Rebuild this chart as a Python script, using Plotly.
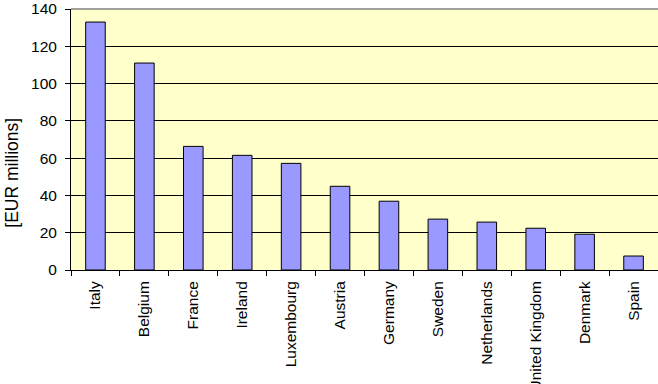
import plotly.graph_objects as go

countries = ["Italy", "Belgium", "France", "Ireland", "Luxembourg", "Austria",
             "Germany", "Sweden", "Netherlands", "United Kingdom", "Denmark", "Spain"]
values = [133, 111, 66.3, 61.5, 57.2, 44.9, 36.9, 27.3, 25.7, 22.4, 19.2, 7.5]
y_ticks = [0, 20, 40, 60, 80, 100, 120, 140]
y_title = "[EUR millions]"

FONT = "Liberation Sans, Arial, sans-serif"

fig = go.Figure()
fig.add_trace(go.Bar(
    x=countries, y=values,
    marker=dict(color="#9999FF", line=dict(color="black", width=1)),
    width=0.4,
))

fig.update_layout(
    width=658, height=384,
    margin=dict(l=71, r=0, t=9, b=114, autoexpand=False),
    paper_bgcolor="white",
    plot_bgcolor="#FFFFCC",
    showlegend=False,
    font=dict(family=FONT, size=15.5, color="black"),
    xaxis=dict(
        tickangle=-90, tickson="boundaries", ticks="outside", ticklen=5,
        tickcolor="black", showline=True, linecolor="black", linewidth=1,
        showgrid=False, automargin=False, tickfont=dict(size=15.5),
        ticklabelstandoff=4,
    ),
    yaxis=dict(
        range=[0, 140], tickvals=y_ticks, ticks="outside", ticklen=5,
        tickcolor="black", showline=True, linecolor="black", linewidth=1,
        showgrid=True, gridcolor="black", gridwidth=1, zeroline=False,
        automargin=False, tickfont=dict(size=15.5), ticklabelstandoff=5,
    ),
    shapes=[dict(type="line", xref="paper", yref="paper", x0=0, x1=1, y0=1, y1=1,
                 line=dict(color="#808080", width=1.5), layer="above")],
    annotations=[dict(text=y_title, textangle=-90, xref="paper", yref="paper",
                      x=-0.1, y=0.374, xanchor="center", yanchor="middle",
                      showarrow=False, font=dict(size=17.5, family=FONT))],
)

fig.write_html("out.html")
